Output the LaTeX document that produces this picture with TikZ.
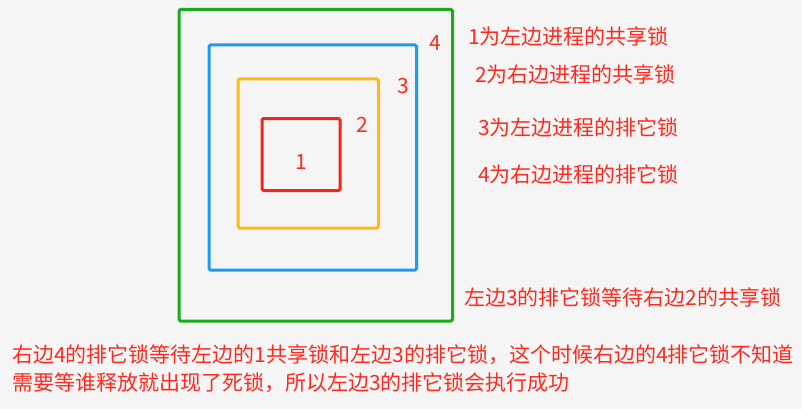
\documentclass[tikz,border=0pt]{standalone}
\usepackage{fontspec}
\newfontfamily\cjk{Noto Sans CJK SC}
\definecolor{bg}{HTML}{F5F5F5}
\definecolor{txtred}{HTML}{FF2A1F}
\definecolor{boxred}{HTML}{F52618}
\definecolor{boxorange}{HTML}{FFBA17}
\definecolor{boxblue}{HTML}{1C9BF5}
\definecolor{boxgreen}{HTML}{1CAA1C}
\begin{document}
\begin{tikzpicture}[x=1pt,y=-1pt,
  box/.style={line width=3pt,rounded corners=1.5pt},
  lbl/.style={text=txtred,font=\cjk\fontsize{21}{25}\selectfont,inner sep=0pt},
  note/.style={lbl,anchor=west}]
\fill[bg] (0,0) rectangle (802,409);
\useasboundingbox (0,0) rectangle (802,409);
\draw[box,boxgreen] (179,9.5) rectangle (452.5,321);
\draw[box,boxblue] (209,45) rectangle (416.5,270);
\draw[box,boxorange] (238,79) rectangle (378.5,228);
\draw[box,boxred] (262,118.5) rectangle (340,190.5);
\node[lbl] (n4) at (435,43) {4};
\node[lbl] (n3) at (403,86) {3};
\node[lbl] (n2) at (362,125) {2};
\node[lbl] (n1) at (301,162) {1};
\node[note] (t1) at (468,36) {1为左边进程的共享锁};
\node[note] (t2) at (475,74) {2为右边进程的共享锁};
\node[note] (t3) at (478,127) {3为左边进程的排它锁};
\node[note] (t4) at (478,174) {4为右边进程的排它锁};
\node[note] (t5) at (464,297) {左边3的排它锁等待右边2的共享锁};
\node[note] (t6) at (12,355) {右边4的排它锁等待左边的1共享锁和左边3的排它锁，这个时候右边的4排它锁不知道};
\node[note] (t7) at (12,383) {需要等谁释放就出现了死锁，所以左边3的排它锁会执行成功};
\end{tikzpicture}
\end{document}
